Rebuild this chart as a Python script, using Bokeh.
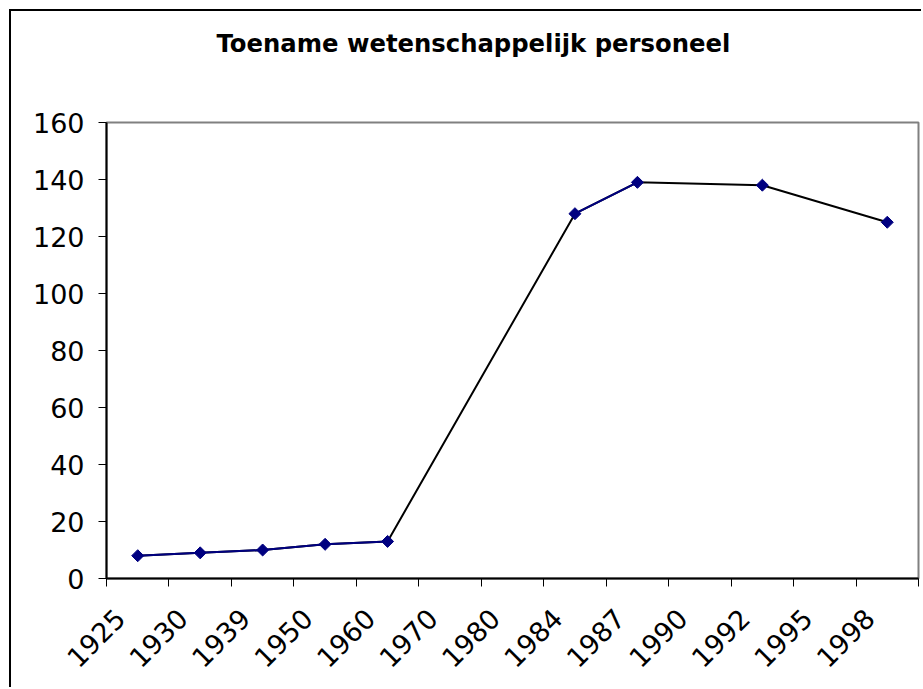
import math
from bokeh.plotting import figure
from bokeh.models import Range1d, FixedTicker, Title
from bokeh.embed import file_html
from bokeh.resources import INLINE

# ---- data ----
years = ["1925", "1930", "1939", "1950", "1960", "1970", "1980",
         "1984", "1987", "1990", "1992", "1995", "1998"]
personnel = [8, 9, 10, 12, 13, None, None, 128, 139, None, 138, None, 125]
y_ticks = [0, 20, 40, 60, 80, 100, 120, 140, 160]
title_text = "Toename wetenschappelijk personeel"

FONT = "DejaVu Sans"
NAVY = "#000080"

idx = list(range(len(years)))
vals_nan = [float("nan") if v is None else v for v in personnel]
present_x = [i for i, v in zip(idx, personnel) if v is not None]
present_y = [v for v in personnel if v is not None]

W, H = 912, 678
ML, MR, MT, MB = 95, 5, 111, 111

p = figure(width=W, height=H, output_backend="svg", toolbar_location=None,
           x_range=Range1d(-0.5, len(years) - 0.5), y_range=Range1d(0, 160),
           min_border_left=ML, min_border_right=MR, min_border_top=MT,
           min_border_bottom=MB)
p.styles = {"margin-left": "9px", "margin-top": "9px",
            "border-left": "2px solid black", "border-top": "2px solid black"}

# main title (outermost) and an empty spacer title between it and the frame
p.title = Title(text=title_text, align="left", offset=110, text_font=FONT,
                text_font_size="24.3px", text_font_style="bold",
                text_color="black", standoff=0)
spacer = Title(text=" ", text_font=FONT, text_font_size="10px", standoff=52)
p.add_layout(spacer, "above")

p.xgrid.visible = False
p.ygrid.visible = False
p.outline_line_color = "#808080"
p.outline_line_width = 2
p.background_fill_color = "white"
p.border_fill_color = "white"

# gap-bridging line (black) beneath, consecutive segments (navy) above
p.line(present_x, present_y, line_color="black", line_width=2)
p.line(idx, vals_nan, line_color=NAVY, line_width=2)
p.scatter(present_x, present_y, marker="square", angle=math.pi / 4, size=8.5,
          fill_color=NAVY, line_color=NAVY)

# x axis: tick marks at category boundaries, labels slightly left of centre
shift = 0.28125
label_pos = [i - shift for i in idx]
xa = p.xaxis[0]
xa.ticker = FixedTicker(ticks=label_pos,
                        minor_ticks=[i - 0.5 for i in range(len(years) + 1)])
xa.major_label_overrides = {pos: y for pos, y in zip(label_pos, years)}
xa.major_tick_out = 0
xa.major_tick_in = 0
xa.minor_tick_out = 8
xa.minor_tick_in = 0
xa.minor_tick_line_color = "black"
xa.minor_tick_line_width = 1
xa.axis_line_color = "black"
xa.axis_line_width = 2
xa.major_label_orientation = math.pi / 4
xa.major_label_text_font = FONT
xa.major_label_text_font_size = "27px"
xa.major_label_text_color = "black"
xa.major_label_standoff = 27

# y axis
ya = p.yaxis[0]
ya.ticker = FixedTicker(ticks=y_ticks, minor_ticks=[])
ya.major_tick_out = 8
ya.major_tick_in = 0
ya.minor_tick_out = 0
ya.minor_tick_in = 0
ya.major_tick_line_color = "black"
ya.axis_line_color = "black"
ya.axis_line_width = 2
ya.major_label_text_font = FONT
ya.major_label_text_font_size = "27px"
ya.major_label_text_color = "black"
ya.major_label_standoff = 14

open("out.html", "w").write(file_html(p, INLINE))
